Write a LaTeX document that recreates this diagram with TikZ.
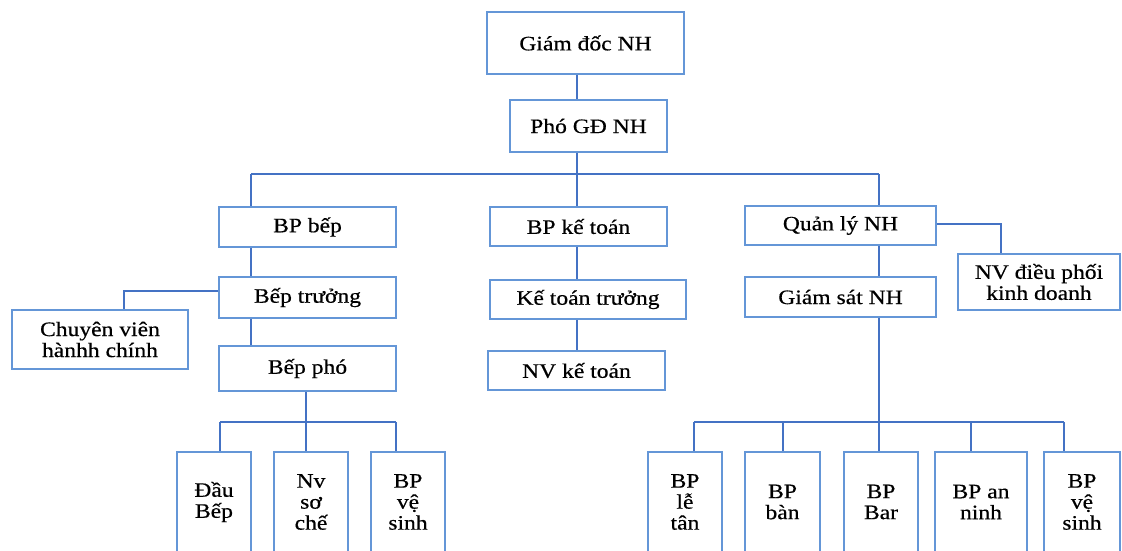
\documentclass[tikz,border=0pt]{standalone}
\usepackage{fontspec}
\setmainfont{Liberation Serif}[FakeStretch=1.15,FakeBold=0.5]
\definecolor{lineblue}{RGB}{68,114,196}
\definecolor{boxblue}{RGB}{100,150,215}
\begin{document}
\begin{tikzpicture}[x=1pt,y=-1pt,
  box/.style={draw=boxblue, line width=1.6pt, fill=white, inner sep=0pt, align=center,
    font=\fontsize{20.5}{21}\selectfont, anchor=center},
  link/.style={draw=lineblue, line width=1.8pt}]
\useasboundingbox (0,0) rectangle (1122,550);
% boxes
\node[box, minimum width=197pt, minimum height=62pt] (gd) at (585.5,43) {Giám đốc NH};
\node[box, minimum width=157pt, minimum height=52pt] (pho) at (588.5,126) {Phó GĐ NH};
\node[box, minimum width=177pt, minimum height=40pt] (bep) at (307.5,227) {BP bếp};
\node[box, minimum width=177pt, minimum height=39pt] (kt) at (578.5,226.5) {BP kế toán};
\node[box, minimum width=191pt, minimum height=39pt] (qly) at (840.5,225.5) {Quản lý NH};
\node[box, minimum width=162pt, minimum height=56pt] (nvdp) at (1039,282) {NV điều phối\\kinh doanh};
\node[box, minimum width=177pt, minimum height=41pt] (btr) at (307.5,297.5) {Bếp trưởng};
\node[box, minimum width=176pt, minimum height=59pt] (cv) at (100,339.5) {Chuyên viên\\hànhh chính};
\node[box, minimum width=177pt, minimum height=45pt] (bpho) at (307.5,368.5) {Bếp phó};
\node[box, minimum width=196pt, minimum height=39pt] (ktt) at (588,299.5) {Kế toán trưởng};
\node[box, minimum width=177pt, minimum height=39pt] (nvkt) at (576.5,370.5) {NV kế toán};
\node[box, minimum width=191pt, minimum height=40pt] (gs) at (840.5,297) {Giám sát NH};
\node[box, minimum width=74pt, minimum height=100pt] (bl1) at (214,502) {Đầu\\Bếp};
\node[box, minimum width=74pt, minimum height=100pt] (bl2) at (311,502) {Nv\\sơ\\chế};
\node[box, minimum width=74pt, minimum height=100pt] (bl3) at (408,502) {BP\\vệ\\sinh};
\node[box, minimum width=74pt, minimum height=100pt] (br1) at (685,502) {BP\\lễ\\tân};
\node[box, minimum width=75pt, minimum height=100pt] (br2) at (782.5,502) {BP\\bàn};
\node[box, minimum width=74pt, minimum height=100pt] (br3) at (881,502) {BP\\Bar};
\node[box, minimum width=92pt, minimum height=100pt] (br4) at (981,502) {BP an\\ninh};
\node[box, minimum width=76pt, minimum height=100pt] (br5) at (1082,502) {BP\\vệ\\sinh};
% junctions
\coordinate (sp) at (577,0);
\coordinate (busL) at (251,174);
\coordinate (busM) at (577,174);
\coordinate (busR) at (879,174);
\coordinate (cvj) at (124,291);
\coordinate (dpj) at (1001,224);
\coordinate (lb1) at (220,422);
\coordinate (lb2) at (306,422);
\coordinate (lb3) at (396,422);
\coordinate (rb1) at (694,422);
\coordinate (rb2) at (783,422);
\coordinate (rb3) at (879,422);
\coordinate (rb4) at (971,422);
\coordinate (rb5) at (1064,422);
% connectors
\draw[link] (gd.south -| sp) -- (pho.north -| sp);
\draw[link] (pho.south -| sp) -- (busM);
\draw[link] (busL) -- (busR);
\draw[link] (busL) -- (bep.north -| busL);
\draw[link] (busM) -- (kt.north -| busM);
\draw[link] (busR) -- (qly.north -| busR);
\draw[link] (bep.south -| busL) -- (btr.north -| busL);
\draw[link] (btr.south -| busL) -- (bpho.north -| busL);
\draw[link] (btr.west |- cvj) -- (cvj) -- (cv.north -| cvj);
\draw[link] (kt.south -| sp) -- (ktt.north -| sp);
\draw[link] (ktt.south -| sp) -- (nvkt.north -| sp);
\draw[link] (qly.east |- dpj) -- (dpj) -- (nvdp.north -| dpj);
\draw[link] (qly.south -| busR) -- (gs.north -| busR);
\draw[link] (bpho.south -| lb2) -- (lb2);
\draw[link] (lb1) -- (lb3);
\draw[link] (lb1) -- (bl1.north -| lb1);
\draw[link] (lb2) -- (bl2.north -| lb2);
\draw[link] (lb3) -- (bl3.north -| lb3);
\draw[link] (gs.south -| rb3) -- (rb3);
\draw[link] (rb1) -- (rb5);
\draw[link] (rb1) -- (br1.north -| rb1);
\draw[link] (rb2) -- (br2.north -| rb2);
\draw[link] (rb3) -- (br3.north -| rb3);
\draw[link] (rb4) -- (br4.north -| rb4);
\draw[link] (rb5) -- (br5.north -| rb5);
\end{tikzpicture}
\end{document}
